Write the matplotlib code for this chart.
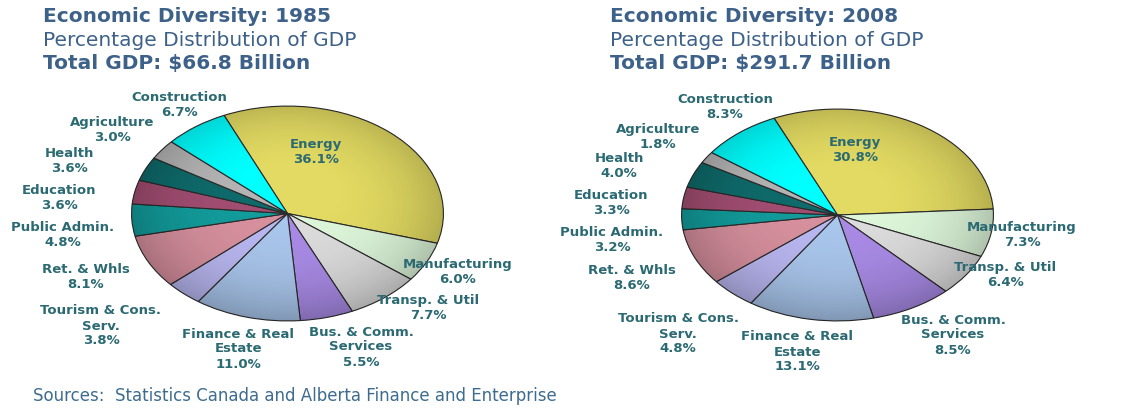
import matplotlib
matplotlib.use('Agg')
import matplotlib.pyplot as plt
import numpy as np
from matplotlib.patches import Circle

plt.rcParams['font.family'] = ['DejaVu Sans']

W, H = 1130, 408

# sectors, clockwise from the top
sectors = ['Energy', 'Manufacturing', 'Transp. & Util', 'Bus. & Comm.\nServices',
           'Finance & Real\nEstate', 'Tourism & Cons.\nServ.', 'Ret. & Whls',
           'Public Admin.', 'Education', 'Health', 'Agriculture', 'Construction']
share_1985 = [36.1, 6.0, 7.7, 5.5, 11.0, 3.8, 8.1, 4.8, 3.6, 3.6, 3.0, 6.7]
share_2008 = [30.8, 7.3, 6.4, 8.5, 13.1, 4.8, 8.6, 3.2, 3.3, 4.0, 1.8, 8.3]
gdp_1985 = 66.8
gdp_2008 = 291.7

colors = ['#E2DA62', '#DDF6DA', '#DCDCDC', '#A98BE6', '#A9C6EC', '#B9B7F0',
          '#D7909E', '#139C9C', '#A24E72', '#0F6B6B', '#B4B4B4', '#00FFFF']

title_col = '#3D6189'
label_col = '#2B6A73'

# label block centres (pixels from top-left), one per sector
label_pos_1985 = [(316, 152), (458, 272), (428, 308), (361, 347), (238, 349),
                  (101, 326), (86, 277), (63, 235), (59, 198), (69, 161),
                  (112, 130), (179, 105)]
label_pos_2008 = [(855, 150), (1022, 235), (1005, 275), (953, 335), (797, 352),
                  (678, 334), (632, 278), (612, 240), (611, 203), (619, 166),
                  (658, 137), (725, 107)]


def px(x, y):
    return x / W, 1 - y / H


def draw_pie(box, values, label_pos, title_x, year, gdp):
    x0, y0, x1, y1 = box
    ax = fig.add_axes([x0 / W, 1 - y1 / H, (x1 - x0) / W, (y1 - y0) / H])
    wedges, _ = ax.pie(values, colors=colors, startangle=114, counterclock=False,
                       radius=1, wedgeprops=dict(edgecolor='#2A2A2A', linewidth=0.8))

    # slight darkening towards the rim
    g = np.linspace(-1, 1, 300)
    xx, yy = np.meshgrid(g, g)
    r = np.sqrt(xx ** 2 + yy ** 2)
    shade = np.zeros((300, 300, 4))
    shade[..., 3] = np.clip(0.20 * r ** 3 + 0.04 * yy, 0, 1)
    im = ax.imshow(shade, extent=[-1, 1, -1, 1], zorder=3, interpolation='bilinear')
    im.set_clip_path(Circle((0, 0), 1, transform=ax.transData))
    for w in wedges:
        w.set_zorder(2)

    ax.set_aspect('auto')
    ax.set_xlim(-1.01, 1.01)
    ax.set_ylim(-1.01, 1.01)
    ax.axis('off')

    for name, v, (lx, ly) in zip(sectors, values, label_pos):
        fig.text(*px(lx, ly), f'{name}\n{v:.1f}%', ha='center', va='center',
                 fontsize=9.5, fontweight='bold', color=label_col, linespacing=1.2)

    fig.text(*px(title_x, 17), f'Economic Diversity: {year}', ha='left', va='center',
             fontsize=14.5, fontweight='bold', color=title_col)
    fig.text(*px(title_x, 40), 'Percentage Distribution of GDP', ha='left', va='center',
             fontsize=14.5, color=title_col)
    fig.text(*px(title_x, 64), f'Total GDP: ${gdp} Billion', ha='left', va='center',
             fontsize=14.5, fontweight='bold', color=title_col)


fig = plt.figure(figsize=(W / 100, H / 100), dpi=100)
fig.patch.set_facecolor('white')

draw_pie((130, 105, 445, 322), share_1985, label_pos_1985, 43, 1985, gdp_1985)
draw_pie((680, 108, 995, 322), share_2008, label_pos_2008, 610, 2008, gdp_2008)

fig.text(*px(33, 396), 'Sources:  Statistics Canada and Alberta Finance and Enterprise',
         ha='left', va='center', fontsize=12, color='#3E6C8E')

fig.savefig('out.png', dpi=100)
